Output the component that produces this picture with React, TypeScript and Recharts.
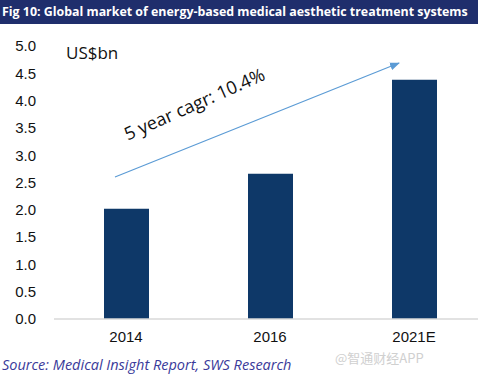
import { BarChart, Bar, XAxis, YAxis } from 'recharts';

const YEARS = ['2014', '2016', '2021E'];
const MARKET_SIZE = [2.02, 2.66, 4.38];
const Y_TICKS = [0, 0.5, 1, 1.5, 2, 2.5, 3, 3.5, 4, 4.5, 5];

const TITLE = 'Fig 10: Global market of energy-based medical aesthetic treatment systems';
const SOURCE = 'Source: Medical Insight Report, SWS Research';

const BAR_COLOR = '#0E3868';
const TITLE_BG = '#1F2E6C';

const data = YEARS.map((year, i) => ({ year, value: MARKET_SIZE[i] }));

const App = () => {
  return (
    <div
      style={{
        position: 'absolute',
        left: 0,
        top: 0,
        width: 478,
        height: 380,
        overflow: 'hidden',
        background: '#fff',
      }}
    >
      <BarChart
        width={486}
        height={380}
        data={data}
        margin={{ top: 46, right: 0, bottom: 31, left: 0 }}
      >
        <XAxis
          dataKey="year"
          height={30}
          axisLine={{ stroke: '#D9D9D9', strokeWidth: 1.5 }}
          tickLine={false}
          tickSize={8}
          tickMargin={4}
          tick={{ fill: '#111', fontSize: 15, fontFamily: 'Liberation Sans, Arial' }}
        />
        <YAxis
          width={54}
          domain={[0, 5]}
          ticks={Y_TICKS}
          interval={0}
          axisLine={false}
          tickLine={false}
          tickSize={16}
          tickMargin={2}
          tickFormatter={(v: number) => v.toFixed(1)}
          tick={{ fill: '#111', fontSize: 15, fontFamily: 'Liberation Sans, Arial' }}
        />
        <Bar dataKey="value" fill={BAR_COLOR} barSize={45} isAnimationActive={false} />
      </BarChart>

      {/* annotations: unit, growth arrow and label */}
      <svg
        width={478}
        height={380}
        style={{ position: 'absolute', left: 0, top: 0, pointerEvents: 'none' }}
      >
        <defs>
          <marker id="arrowHead" markerWidth="10" markerHeight="8" refX="9" refY="4" orient="auto" markerUnits="userSpaceOnUse">
            <path d="M0,0 L10,4 L0,8 Z" fill="#5B9BD5" />
          </marker>
        </defs>
        <line x1={115} y1={177} x2={399} y2={63} stroke="#5B9BD5" strokeWidth={1.2} markerEnd="url(#arrowHead)" />
        <text x={66} y={59} fontSize={17} fontFamily="Open Sans, sans-serif" fill="#111">
          US$bn
        </text>
        <text
          x={197}
          y={110}
          fontSize={18}
          fontFamily="Open Sans, sans-serif"
          fill="#111"
          textAnchor="middle"
          transform="rotate(-24 197 110)"
        >
          5 year cagr: 10.4%
        </text>
        <text x={335} y={363} fontSize={13} fontFamily="Noto Sans CJK SC, sans-serif" fill="#D0D0D0">
          @智通财经APP
        </text>
      </svg>

      <div
        style={{
          position: 'absolute',
          left: 0,
          top: 0,
          width: 478,
          height: 24,
          background: TITLE_BG,
          color: '#fff',
          fontFamily: 'Open Sans, sans-serif',
          fontWeight: 700,
          fontSize: 12.4,
          lineHeight: '24px',
          paddingLeft: 2,
          whiteSpace: 'nowrap',
          boxSizing: 'border-box',
        }}
      >
        {TITLE}
      </div>
      <div
        style={{
          position: 'absolute',
          left: 2,
          top: 356,
          color: '#3A3A9A',
          fontFamily: 'Open Sans, sans-serif',
          fontStyle: 'italic',
          fontSize: 14.5,
          lineHeight: '18px',
          whiteSpace: 'nowrap',
        }}
      >
        {SOURCE}
      </div>
    </div>
  );
};

export default App;
